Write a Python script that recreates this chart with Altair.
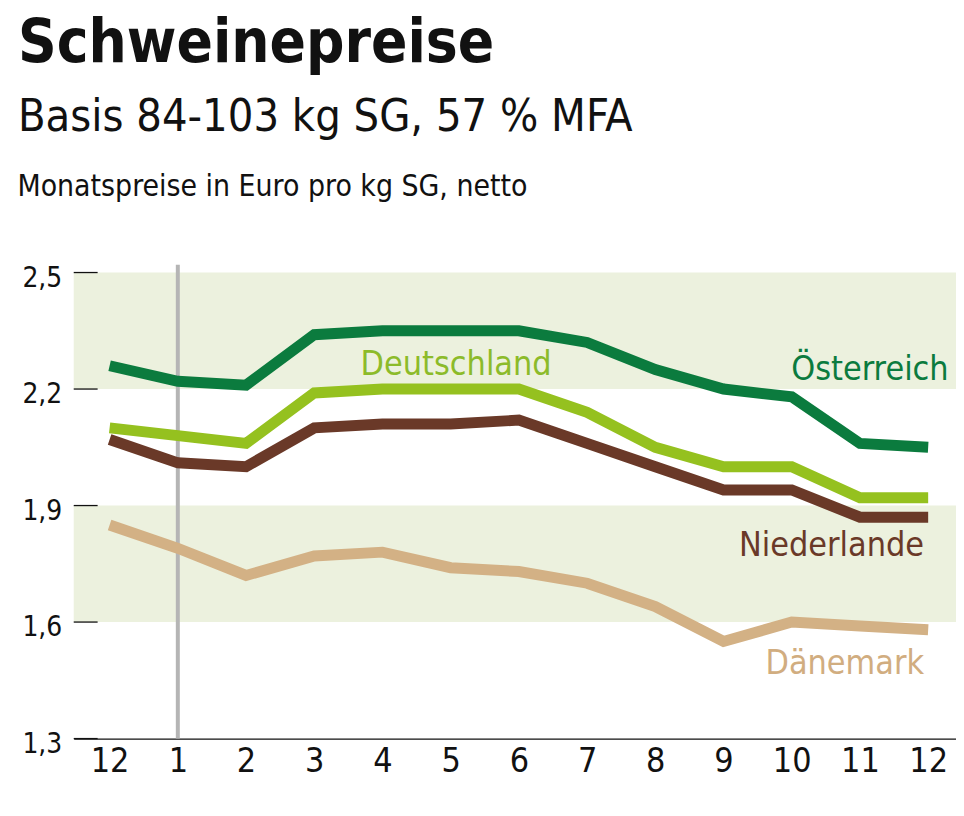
import json
import altair as alt
import pandas as pd

# ---- data ----
months = ["12", "1", "2", "3", "4", "5", "6", "7", "8", "9", "10", "11", "12"]
countries = ["Dänemark", "Niederlande", "Deutschland", "Österreich"]
oesterreich = [2.26, 2.22, 2.21, 2.34, 2.35, 2.35, 2.35, 2.32, 2.25, 2.20, 2.18, 2.06, 2.05]
deutschland = [2.10, 2.08, 2.06, 2.19, 2.20, 2.20, 2.20, 2.14, 2.05, 2.00, 2.00, 1.92, 1.92]
niederlande = [2.07, 2.01, 2.00, 2.10, 2.11, 2.11, 2.12, 2.06, 2.00, 1.94, 1.94, 1.87, 1.87]
daenemark = [1.85, 1.79, 1.72, 1.77, 1.78, 1.74, 1.73, 1.70, 1.64, 1.55, 1.60, 1.59, 1.58]
y_ticks = [1.3, 1.6, 1.9, 2.2, 2.5]
band_lo = [1.6, 2.2]
band_hi = [1.9, 2.5]

title_text = "Schweinepreise"
subtitle_text = "Basis 84-103 kg SG, 57 % MFA"
unit_text = "Monatspreise in Euro pro kg SG, netto"

# series label placement (x in month index, y in Euro)
label_x = [11.94, 11.94, 5.08, 12.3]
label_y = [1.467, 1.769, 2.236, 2.223]
label_align = ["right", "right", "center", "right"]

colors = ["#d3b185", "#6a3928", "#95c11f", "#0b7b3e"]
label_colors = ["#d1ad80", "#6a3928", "#8cbb2a", "#0b7b3e"]

F = "DejaVu Sans Condensed, Roboto, sans-serif"
W, H = 886, 468

series = {"Österreich": oesterreich, "Deutschland": deutschland,
          "Niederlande": niederlande, "Dänemark": daenemark}
rows = []
for land, vals in series.items():
    for i, v in enumerate(vals):
        rows.append({"land": land, "i": i, "v": v})
df = pd.DataFrame(rows)

xscale = alt.Scale(domain=[-0.526, 12.408], nice=False, zero=False)
yscale = alt.Scale(domain=[1.3, 2.5], nice=False, zero=False)

x_axis = alt.Axis(
    values=list(range(len(months))),
    labelExpr=json.dumps(months) + "[datum.value]",
    domain=True, domainColor="#111111", domainWidth=1.3,
    ticks=False, grid=False, title=None,
    labelFont=F, labelFontSize=34, labelColor="#111111",
    labelPadding=6, labelFlush=False, labelOverlap=False,
)
y_axis = alt.Axis(
    values=y_ticks,
    labelExpr="replace(format(datum.value, '.1f'), '.', ',')",
    domain=False, ticks=False, grid=False,
    labelFont=F, labelFontSize=28, labelColor="#111111",
    labelPadding=12, labelOffset=6,
    title=unit_text, titleAngle=0, titleAlign="left", titleBaseline="alphabetic",
    titleX=-57, titleY=-77, titleFont=F, titleFontSize=30,
    titleFontWeight="normal", titleColor="#111111",
)

bands = alt.Chart(pd.DataFrame({"lo": band_lo, "hi": band_hi})).mark_rect(
    color="#ecf1de"
).encode(
    x=alt.value(0), x2=alt.value(W),
    y=alt.Y("lo:Q", scale=yscale, axis=y_axis), y2="hi:Q",
)

vline = alt.Chart(pd.DataFrame({"i": [1], "top": [2.52], "bot": [1.3]})).mark_rule(
    color="#b5b5b5", strokeWidth=4
).encode(
    x=alt.X("i:Q", scale=xscale, axis=x_axis),
    y=alt.Y("top:Q", scale=yscale, axis=y_axis),
    y2="bot:Q",
)

ticks = alt.Chart(pd.DataFrame({"t": y_ticks})).mark_rule(
    color="#111111", strokeWidth=1.3
).encode(
    x=alt.value(0), x2=alt.value(24),
    y=alt.Y("t:Q", scale=yscale, axis=y_axis),
)

lines = alt.Chart(df).mark_line(strokeWidth=11, strokeCap="butt").encode(
    x=alt.X("i:Q", scale=xscale, axis=x_axis),
    y=alt.Y("v:Q", scale=yscale, axis=y_axis),
    color=alt.Color("land:N", scale=alt.Scale(domain=countries, range=colors), legend=None),
)

labels_df = pd.DataFrame({"land": countries, "lx": label_x, "ly": label_y})
label_layers = []
for k in range(len(countries)):
    label_layers.append(
        alt.Chart(labels_df.iloc[[k]]).mark_text(
            font=F, fontSize=34, fontWeight="normal", align=label_align[k],
            baseline="alphabetic", color=label_colors[k]
        ).encode(
            x=alt.X("lx:Q", scale=xscale, axis=x_axis),
            y=alt.Y("ly:Q", scale=yscale, axis=y_axis),
            text="land:N",
        )
    )

chart = alt.layer(bands, vline, ticks, lines, *label_layers).properties(
    width=W, height=H,
    autosize=alt.AutoSizeParams(type="none"),
    padding={"left": 66, "top": 264, "right": 0, "bottom": 50},
    title=alt.Title(
        title_text, subtitle=subtitle_text, anchor="start", frame="group",
        dx=-56, offset=31, font=F, fontSize=60, fontWeight="bold", color="#111111",
        subtitleFont=F, subtitleFontSize=45, subtitleColor="#111111",
        subtitlePadding=20,
    ),
).configure_view(stroke=None)

chart.save("out.html", embed_options={"renderer": "svg", "actions": False})
